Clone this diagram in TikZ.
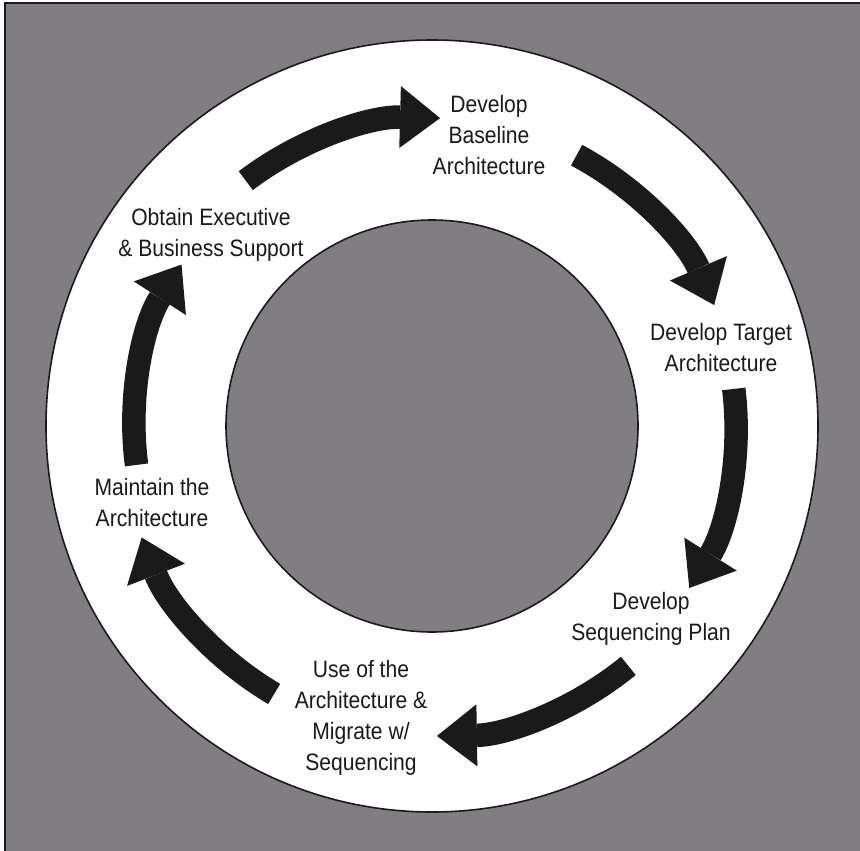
\documentclass[tikz,border=0pt]{standalone}
\usepackage{fontspec}
\setmainfont[FakeStretch=0.89]{Liberation Sans}
\usetikzlibrary{arrows.meta}
\definecolor{panel}{RGB}{128,126,131}
\definecolor{ink}{RGB}{26,26,26}

\begin{document}
\begin{tikzpicture}[x=1pt,y=1pt,
  phase/.style={align=center, font=\fontsize{23.7}{31}\selectfont, text=ink, inner sep=0pt},
  ring/.style={draw=ink, line width=1.6pt},
  flow/.style={draw=ink, line width=23.5pt,
    -{Triangle[width=62pt,length=40pt,line width=0pt]}}]
  \useasboundingbox (0,0) rectangle (860,-851);

  % gray panel with its top and left rules
  \fill[panel] (5,-3) rectangle (860,-851);
  \draw[ink, line width=2.5pt] (5,-851) -- (5,-3) -- (860,-3);

  % white ring
  \coordinate (c) at (432,-426);
  \draw[ring, fill=white] (c) circle[radius=386];
  \draw[ring, fill=panel] (c) circle[radius=206];

  % phase labels
  \node[phase] (baseline) at (489,-135.5) {Develop\\Baseline\\Architecture};
  \node[phase] (target)   at (721,-348)   {Develop Target\\Architecture};
  \node[phase] (seqplan)  at (651,-618.5) {Develop\\Sequencing Plan};
  \node[phase] (migrate)  at (361,-717.5) {Use of the\\Architecture \&\\Migrate w/\\Sequencing};
  \node[phase] (maintain) at (152,-502.5) {Maintain the\\Architecture};
  \node[phase] (support)  at (211,-234.5) {Obtain Executive\\\& Business Support};

  % arrow start points on the ring
  \coordinate (f1) at ([shift={(127.2:308)}]c);
  \coordinate (f2) at ([shift={(61.9:307)}]c);
  \coordinate (f3) at ([shift={(7.0:304)}]c);
  \coordinate (f4) at ([shift={(-50.7:310)}]c);
  \coordinate (f5) at ([shift={(-120.5:311)}]c);
  \coordinate (f6) at ([shift={(-172.5:298)}]c);

  % curved flow arrows, clockwise
  \draw[flow] (f1) arc[start angle=127.2, end angle=88.5, radius=308];
  \draw[flow] (f2) arc[start angle=61.9, end angle=23.2, radius=307];
  \draw[flow] (f3) arc[start angle=7.0, end angle=-32.2, radius=304];
  \draw[flow] (f4) arc[start angle=-50.7, end angle=-89.1, radius=310];
  \draw[flow] (f5) arc[start angle=-120.5, end angle=-159.0, radius=311];
  \draw[flow] (f6) arc[start angle=-172.5, end angle=-212.8, radius=298];
\end{tikzpicture}
\end{document}
